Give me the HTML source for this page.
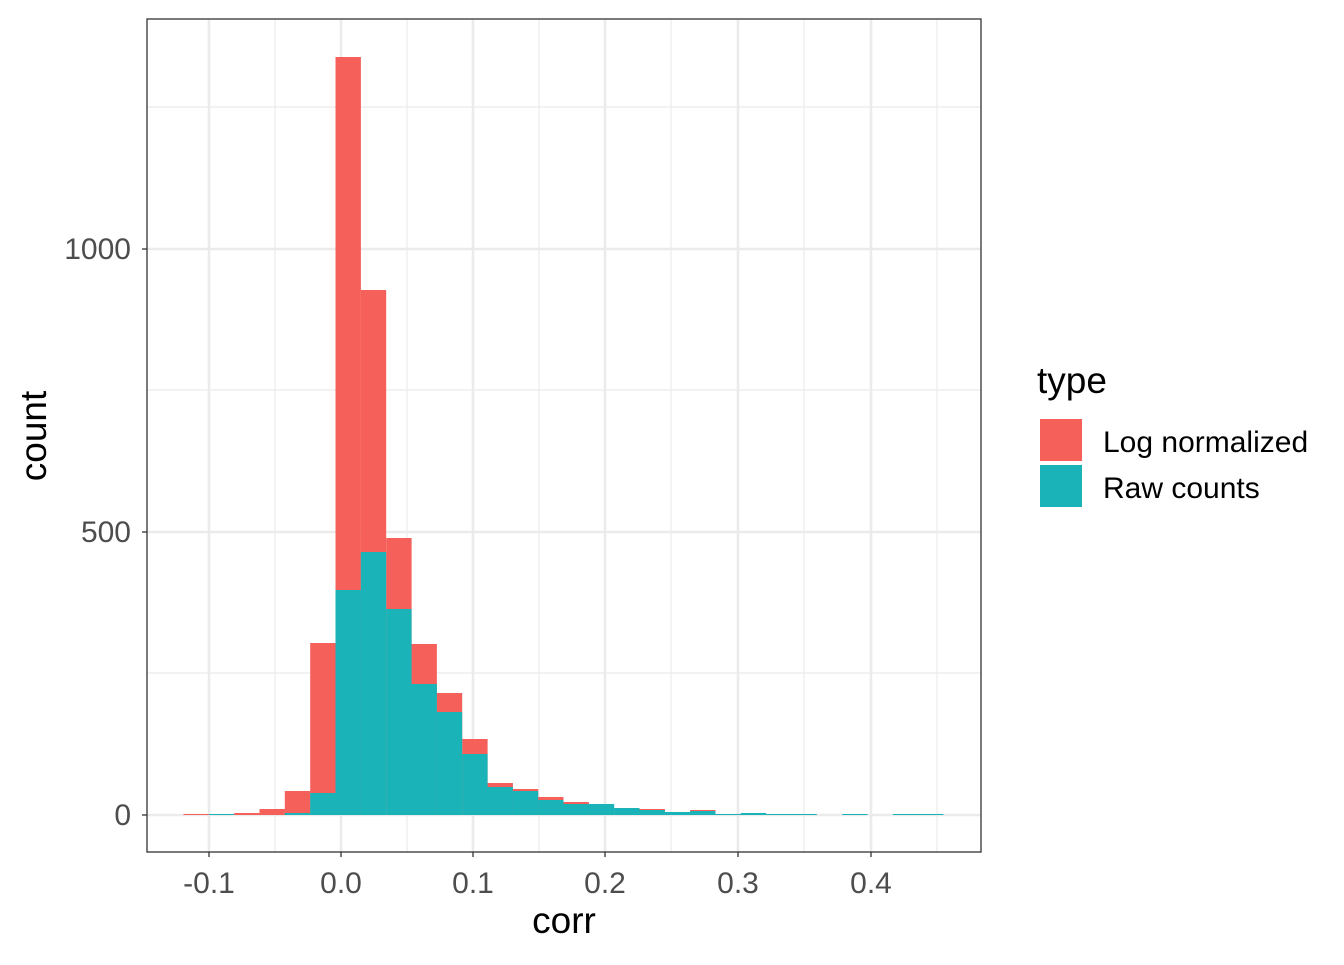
<!DOCTYPE html>
<html><head><meta charset="utf-8"><style>
html,body{margin:0;padding:0;background:#fff;}
svg text{font-family:"Liberation Sans",Arial,sans-serif;}
</style></head><body>
<svg width="1344" height="960" viewBox="0 0 1344 960" xmlns="http://www.w3.org/2000/svg">
<rect x="0" y="0" width="1344" height="960" fill="#fff"/>
<g stroke="#ebebeb" stroke-width="1.2">
<line x1="147" x2="981" y1="107" y2="107"/><line x1="147" x2="981" y1="390" y2="390"/><line x1="147" x2="981" y1="673" y2="673"/>
<line y1="19" y2="852" x1="275" x2="275"/><line y1="19" y2="852" x1="407" x2="407"/><line y1="19" y2="852" x1="539" x2="539"/><line y1="19" y2="852" x1="671" x2="671"/><line y1="19" y2="852" x1="804" x2="804"/><line y1="19" y2="852" x1="937" x2="937"/>
</g>
<g stroke="#ebebeb" stroke-width="2.6">
<line x1="147" x2="981" y1="249" y2="249"/><line x1="147" x2="981" y1="532" y2="532"/><line x1="147" x2="981" y1="815" y2="815"/>
<line y1="19" y2="852" x1="209" x2="209"/><line y1="19" y2="852" x1="341" x2="341"/><line y1="19" y2="852" x1="473" x2="473"/><line y1="19" y2="852" x1="605" x2="605"/><line y1="19" y2="852" x1="738" x2="738"/><line y1="19" y2="852" x1="871" x2="871"/>
</g>
<g fill="#F5605B">
<rect x="183.5" y="814" width="25.4" height="1"/>
<rect x="234.2" y="813" width="25.4" height="2"/>
<rect x="259.5" y="809" width="25.4" height="6"/>
<rect x="284.8" y="791" width="25.4" height="24"/>
<rect x="310.2" y="643" width="25.4" height="172"/>
<rect x="335.5" y="57" width="25.4" height="758"/>
<rect x="360.8" y="290" width="25.4" height="525"/>
<rect x="386.2" y="538" width="25.4" height="277"/>
<rect x="411.5" y="644" width="25.4" height="171"/>
<rect x="436.8" y="693" width="25.4" height="122"/>
<rect x="462.2" y="739" width="25.4" height="76"/>
<rect x="487.5" y="783" width="25.4" height="32"/>
<rect x="512.8" y="789" width="25.4" height="26"/>
<rect x="538.1" y="797" width="25.4" height="18"/>
<rect x="563.5" y="802" width="25.4" height="13"/>
<rect x="639.5" y="809" width="25.4" height="6"/>
<rect x="690.1" y="810" width="25.4" height="5"/>
</g>
<g fill="#19B3B8">
<rect x="208.9" y="814" width="25.4" height="1"/>
<rect x="284.8" y="813" width="25.4" height="2"/>
<rect x="310.2" y="793" width="25.4" height="22"/>
<rect x="335.5" y="590" width="25.4" height="225"/>
<rect x="360.8" y="552" width="25.4" height="263"/>
<rect x="386.2" y="609" width="25.4" height="206"/>
<rect x="411.5" y="684" width="25.4" height="131"/>
<rect x="436.8" y="712" width="25.4" height="103"/>
<rect x="462.2" y="754" width="25.4" height="61"/>
<rect x="487.5" y="787" width="25.4" height="28"/>
<rect x="512.8" y="791" width="25.4" height="24"/>
<rect x="538.1" y="800" width="25.4" height="15"/>
<rect x="563.5" y="804" width="25.4" height="11"/>
<rect x="588.8" y="804" width="25.4" height="11"/>
<rect x="614.1" y="808" width="25.4" height="7"/>
<rect x="639.5" y="810" width="25.4" height="5"/>
<rect x="664.8" y="812" width="25.4" height="3"/>
<rect x="690.1" y="811" width="25.4" height="4"/>
<rect x="715.5" y="814" width="25.4" height="1"/>
<rect x="740.8" y="813" width="25.4" height="2"/>
<rect x="766.1" y="814" width="25.4" height="1"/>
<rect x="791.4" y="814" width="25.4" height="1"/>
<rect x="842.1" y="814" width="25.4" height="1"/>
<rect x="892.8" y="814" width="25.4" height="1"/>
<rect x="918.1" y="814" width="25.4" height="1"/>
</g>
<rect x="147" y="19" width="834" height="833" fill="none" stroke="#333" stroke-width="1.3"/>
<g stroke="#333" stroke-width="1.3">
<line x1="142" x2="147" y1="249" y2="249"/><line x1="142" x2="147" y1="532" y2="532"/><line x1="142" x2="147" y1="815" y2="815"/>
<line y1="852" y2="857" x1="209" x2="209"/><line y1="852" y2="857" x1="341" x2="341"/><line y1="852" y2="857" x1="473" x2="473"/><line y1="852" y2="857" x1="605" x2="605"/><line y1="852" y2="857" x1="738" x2="738"/><line y1="852" y2="857" x1="871" x2="871"/>
</g>
<g font-size="30" fill="#4d4d4d" text-anchor="end">
<text x="131" y="259">1000</text><text x="131" y="542">500</text><text x="131" y="825">0</text>
</g>
<g font-size="30" fill="#4d4d4d" text-anchor="middle">
<text x="209" y="893">-0.1</text><text x="341" y="893">0.0</text><text x="473" y="893">0.1</text><text x="605" y="893">0.2</text><text x="738" y="893">0.3</text><text x="871" y="893">0.4</text>
</g>
<text x="564" y="933" font-size="37" text-anchor="middle" fill="#000">corr</text>
<text transform="translate(46,436) rotate(-90)" font-size="37" text-anchor="middle" fill="#000">count</text>
<text x="1037" y="393" font-size="37" fill="#000">type</text>
<rect x="1040" y="419" width="42" height="42" fill="#F5605B"/>
<rect x="1040" y="465" width="42" height="42" fill="#19B3B8"/>
<text x="1103" y="452" font-size="30" fill="#000">Log normalized</text>
<text x="1103" y="498" font-size="30" fill="#000">Raw counts</text>
</svg>
</body></html>
